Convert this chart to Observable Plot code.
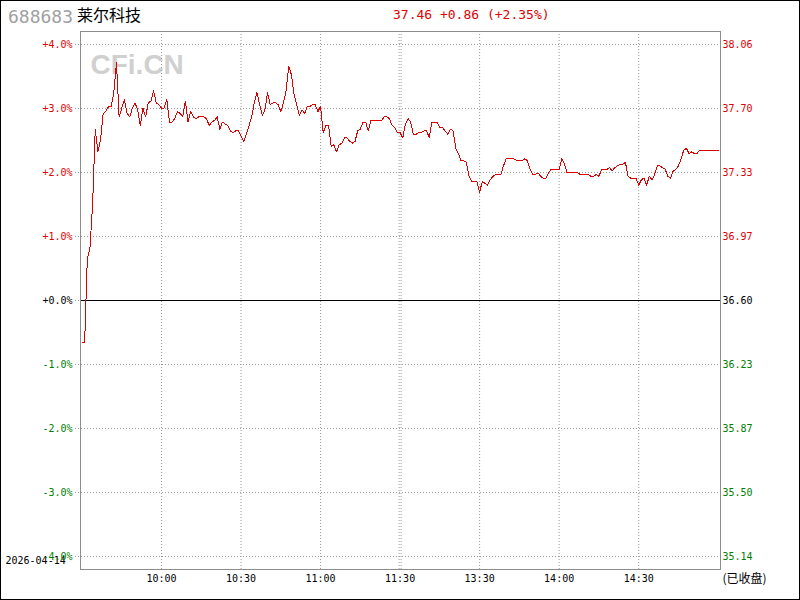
<!DOCTYPE html>
<html><head><meta charset="utf-8">
<script src="https://cdn.jsdelivr.net/npm/d3@7"></script>
<script src="https://cdn.jsdelivr.net/npm/@observablehq/plot@0.6"></script>
<style>
body{margin:0;background:#fff;}
#wrap{position:relative;width:800px;height:600px;overflow:hidden;background:#fff;}
#border{position:absolute;left:0;top:0;width:798px;height:598px;border:1px solid #000;pointer-events:none;}
.h{position:absolute;white-space:nowrap;}
#chart{position:absolute;left:0;top:24px;}
</style></head><body>
<div id="wrap">
<div class="h" style="left:8px;top:8px;font:18px/1 'DejaVu Sans Mono',monospace;color:#a0a0a0">688683</div>
<div class="h" style="left:77px;top:6px;font:16px/1 'Noto Sans CJK SC',sans-serif;color:#000">莱尔科技</div>
<div class="h" style="left:393px;top:8px;font:13px/1 'DejaVu Sans Mono',monospace;color:#e00000">37.46 +0.86 (+2.35%)</div>
<div id="chart"></div>
<div id="border"></div>
</div>
<script>
const prevClose = 36.60;
// one price per trading minute: index 0 = 09:30 ... 120 = 11:30/13:00 ... 240 = 15:00
const prices = [
36.36,36.36,36.84,36.90,37.15,37.58,37.45,37.52,37.67,37.68,
37.71,37.71,37.79,37.96,37.65,37.70,37.75,37.67,37.65,37.70,
37.73,37.69,37.60,37.70,37.65,37.73,37.74,37.80,37.73,37.72,
37.70,37.70,37.75,37.62,37.62,37.64,37.68,37.67,37.65,37.74,
37.62,37.68,37.65,37.64,37.65,37.65,37.65,37.64,37.60,37.62,
37.63,37.65,37.58,37.62,37.61,37.60,37.57,37.56,37.57,37.57,
37.54,37.51,37.55,37.60,37.65,37.73,37.79,37.72,37.66,37.69,
37.79,37.72,37.73,37.73,37.72,37.68,37.73,37.80,37.94,37.89,
37.78,37.72,37.66,37.69,37.67,37.71,37.71,37.72,37.72,37.68,
37.71,37.56,37.60,37.60,37.48,37.49,37.45,37.49,37.50,37.53,
37.53,37.51,37.50,37.51,37.57,37.58,37.62,37.62,37.57,37.63,
37.63,37.63,37.63,37.63,37.65,37.65,37.64,37.60,37.59,37.56,
37.56,37.53,37.61,37.64,37.62,37.55,37.55,37.56,37.56,37.57,
37.57,37.53,37.62,37.62,37.62,37.59,37.59,37.57,37.55,37.58,
37.57,37.47,37.44,37.40,37.40,37.39,37.31,37.28,37.28,37.28,
37.22,37.28,37.27,37.26,37.29,37.31,37.32,37.32,37.32,37.37,
37.41,37.41,37.41,37.41,37.40,37.40,37.40,37.41,37.40,37.35,
37.32,37.32,37.33,37.31,37.30,37.30,37.33,37.35,37.35,37.35,
37.35,37.41,37.38,37.33,37.33,37.33,37.33,37.33,37.32,37.32,
37.32,37.32,37.31,37.31,37.32,37.31,37.35,37.35,37.35,37.36,
37.34,37.36,37.37,37.38,37.38,37.39,37.31,37.30,37.30,37.30,
37.26,37.29,37.30,37.26,37.31,37.29,37.32,37.37,37.37,37.36,
37.35,37.31,37.30,37.34,37.35,37.37,37.41,37.46,37.47,37.44,
37.45,37.44,37.44,37.46,37.46,37.46,37.46,37.46,37.46,37.46,
37.46
];
const pctTicks = [4,3,2,1,0,-1,-2,-3,-4];
const pctLabels = ["+4.0%","+3.0%","+2.0%","+1.0%","+0.0%","-1.0%","-2.0%","-3.0%","-4.0%"];
const priceLabels = ["38.06","37.70","37.33","36.97","36.60","36.23","35.87","35.50","35.14"];
const timeTicks = [30,60,90,120,150,180,210];
const timeLabels = ["10:00","10:30","11:00","11:30","13:30","14:00","14:30"];
const dateLabel = "2026-04-14";
const statusLabel = "(已收盘)";
const watermark = "CFi.CN";

const data = prices.map((p,i)=>({m:i, pct:(p/prevClose-1)*100}));
const red="#e00000", green="#008000";
const col = v => v>0?red:(v<0?green:"#000000");

const chart = Plot.plot({
  width:800, height:576,
  marginLeft:80, marginRight:80, marginTop:7, marginBottom:31,
  insetLeft:1.5, insetRight:2.3, insetTop:13, insetBottom:13,
  x:{domain:[0,240], axis:null},
  y:{domain:[-4,4], axis:null},
  color:{type:"identity"},
  style:{fontFamily:"'DejaVu Sans Mono', monospace", fontSize:"10px", background:"transparent", overflow:"visible"},
  marks:[
    Plot.text([watermark], {frameAnchor:"top-left", dx:10, dy:34, text:d=>d, textAnchor:"start", lineAnchor:"middle", fill:"#d0d0d0", fontSize:28, fontWeight:"bold", fontFamily:"Arial, 'Liberation Sans', sans-serif"}),
    Plot.ruleY(pctTicks, {y:d=>d, stroke:"#999", strokeDasharray:"1,2", insetLeft:-5}),
    Plot.ruleX(timeTicks.filter(t=>t!==120), {x:d=>d, stroke:"#999", strokeDasharray:"1,2"}),
    Plot.ruleX([120], {x:d=>d, dx:-1, stroke:"#999", strokeDasharray:"1,2"}),
    Plot.ruleX([120], {x:d=>d, dx:1, stroke:"#999", strokeDasharray:"1,2"}),
    Plot.ruleY([0], {y:d=>d, stroke:"#000"}),
    Plot.frame({stroke:"#8c8c8c"}),
    Plot.line(data, {x:"m", y:"pct", stroke:"#dd0000", strokeWidth:1, shapeRendering:"crispEdges"}),
    Plot.text([dateLabel], {frameAnchor:"bottom-left", dx:-75, dy:-6, textAnchor:"start", text:d=>d, fill:"#000"}),
    Plot.text(pctTicks, {y:d=>d, text:(d,i)=>pctLabels[i], frameAnchor:"left", textAnchor:"end", dx:-8, fill:d=>col(d)}),
    Plot.text(pctTicks, {y:d=>d, text:(d,i)=>priceLabels[i], frameAnchor:"right", textAnchor:"start", dx:2, fill:d=>col(d)}),
    Plot.text(timeTicks, {x:d=>d, text:(d,i)=>timeLabels[i], frameAnchor:"bottom", dy:9, lineAnchor:"middle", fill:"#000"}),
    Plot.text([statusLabel], {frameAnchor:"bottom-right", dx:2, dy:10, textAnchor:"start", lineAnchor:"middle", text:d=>d, fill:"#000", fontFamily:"'Noto Sans CJK SC', sans-serif", fontSize:12})
  ]
});
document.getElementById("chart").appendChild(chart);
</script>
</body></html>
